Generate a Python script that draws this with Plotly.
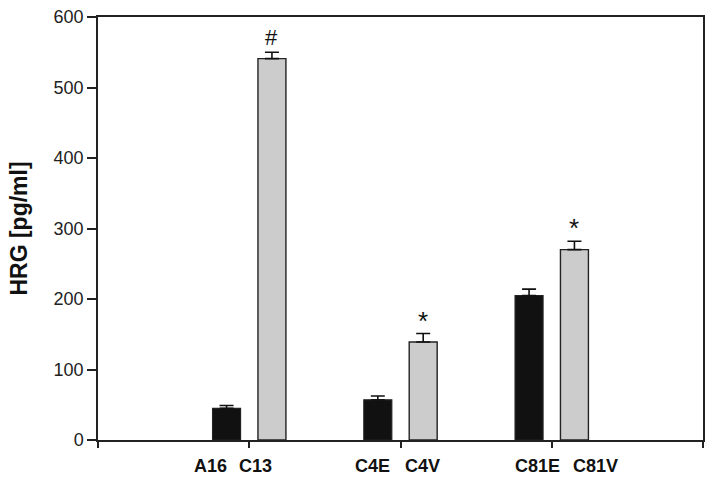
import plotly.graph_objects as go

# ---- data ----
groups = [1, 2, 3]                      # group positions on the axis
first_labels = ["A16", "C4E", "C81E"]   # black bars
second_labels = ["C13", "C4V", "C81V"]  # grey bars
first_values = [45, 57, 205]
first_err = [4, 5.5, 9]
second_values = [541, 139, 270]
second_err = [9, 12, 12]
second_marks = ["#", "*", "*"]
y_ticks = [0, 100, 200, 300, 400, 500, 600]

# ---- style ----
offset = 0.15
width = 0.185
first_label_shift = [-16, -5, 8]     # pixel nudges of the labels as placed in the original
second_label_shift = [-16, -1, 21]
mark_sizes = {"#": 22, "*": 26}
x_first = [g - offset for g in groups]
x_second = [g + offset for g in groups]

font_family = "Arial, Liberation Sans, sans-serif"

fig = go.Figure()
fig.add_trace(go.Bar(
    x=x_first, y=first_values, width=width,
    marker=dict(color="#111111", line=dict(color="#222222", width=1.2)),
    error_y=dict(type="data", array=first_err, arrayminus=[0]*3, symmetric=False,
                 color="#111111", thickness=1.6, width=7),
    showlegend=False,
))
fig.add_trace(go.Bar(
    x=x_second, y=second_values, width=width,
    marker=dict(color="#cccccc", line=dict(color="#222222", width=1.4)),
    error_y=dict(type="data", array=second_err, arrayminus=[0]*3, symmetric=False,
                 color="#111111", thickness=1.6, width=7),
    showlegend=False,
))

annotations = []
# bar labels below the axis
for xs, labs, shifts in ((x_first, first_labels, first_label_shift),
                         (x_second, second_labels, second_label_shift)):
    for x, lab, sh in zip(xs, labs, shifts):
        annotations.append(dict(x=x, y=0, xref="x", yref="y", text=f"<b>{lab}</b>",
                                showarrow=False, yanchor="middle", yshift=-26, xshift=sh,
                                font=dict(family=font_family, size=18, color="#111111")))
# significance marks
for x, v, e, m in zip(x_second, second_values, second_err, second_marks):
    annotations.append(dict(x=x, y=v + e, xref="x", yref="y", text=m,
                            showarrow=False, yanchor="bottom",
                            yshift=0 if m == "#" else -4,
                            font=dict(family=font_family, size=mark_sizes[m], color="#111111")))

fig.update_layout(
    width=713, height=482,
    margin=dict(l=98, r=10, t=17, b=42, autoexpand=False),
    paper_bgcolor="white", plot_bgcolor="white",
    barmode="overlay",
    annotations=annotations,
    font=dict(family=font_family, color="#222222"),
    xaxis=dict(range=[0, 4], tickvals=[0] + groups + [4], ticktext=[""] * 5,
               ticks="outside", ticklen=6, tickwidth=1.5, tickcolor="#222222",
               showline=True, linecolor="#222222", linewidth=1.5, mirror=True,
               showgrid=False, zeroline=False, automargin=False),
    yaxis=dict(range=[0, 600], tickvals=y_ticks,
               ticks="outside", ticklen=9, tickwidth=1.5, tickcolor="#222222",
               showline=True, linecolor="#222222", linewidth=1.5, mirror=True,
               showgrid=False, zeroline=False, automargin=False,
               ticklabeloverflow="allow",
               tickfont=dict(family=font_family, size=18, color="#222222"),
               title=dict(text="<b>HRG [pg/ml]</b>", standoff=20,
                          font=dict(family=font_family, size=23, color="#111111"))),
)

fig.write_html("out.html", config={"displayModeBar": False},
               post_script="document.body.style.margin='0';document.body.style.padding='0';")
